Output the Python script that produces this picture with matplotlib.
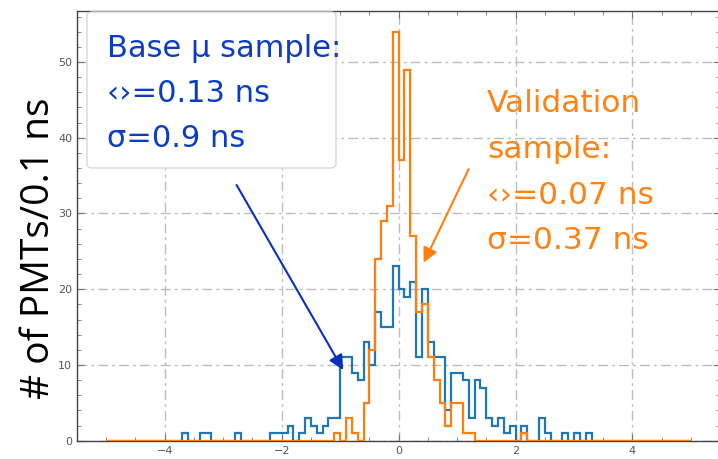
import numpy as np
import matplotlib
matplotlib.use("Agg")
import matplotlib.pyplot as plt
from matplotlib.patches import FancyBboxPatch
from matplotlib.ticker import MultipleLocator

# ---- data: bin centres (ns) and counts per 0.1 ns bin ----
bin_edges = np.round(np.arange(-5.0, 5.0001, 0.1), 2)

base_x = [-3.65, -3.35, -3.25, -2.75, -2.15, -2.05, -1.95, -1.85, -1.65, -1.55,
          -1.45, -1.35, -1.25, -1.15, -1.05, -0.95, -0.85, -0.75, -0.65, -0.55,
          -0.45, -0.35, -0.25, -0.15, -0.05, 0.05, 0.15, 0.25, 0.35, 0.45,
          0.55, 0.65, 0.75, 0.85, 0.95, 1.05, 1.15, 1.25, 1.35, 1.45,
          1.55, 1.65, 1.75, 1.85, 1.95, 2.15, 2.45, 2.55, 2.85, 3.05, 3.25]
base_n = [1, 1, 1, 1, 1, 1, 1, 2, 1, 3,
          2, 1, 2, 3, 3, 11, 11, 9, 8, 13,
          10, 17, 15, 15, 23, 20, 19, 21, 11, 20,
          13, 11, 11, 4, 9, 9, 8, 3, 8, 7,
          3, 2, 3, 1, 2, 2, 3, 1, 1, 1, 1]

valid_x = [-1.05, -0.85, -0.75, -0.55, -0.45, -0.35, -0.25, -0.15, -0.05,
           0.05, 0.15, 0.25, 0.35, 0.45, 0.55, 0.65, 0.75, 0.85, 0.95,
           1.05, 1.15, 1.25, 2.15]
valid_n = [1, 3, 1, 5, 12, 24, 29, 31, 54,
           37, 49, 27, 17, 18, 11, 8, 5, 2, 5,
           5, 1, 1, 1]

x_ticks = [-4, -2, 0, 2, 4]
y_ticks = [0, 10, 20, 30, 40, 50]

blue_lines = ["Base \u03bc sample:", "\u2039\u203a=0.13 ns", "\u03c3=0.9 ns"]
orange_lines = ["Validation", "sample:", "\u2039\u203a=0.07 ns", "\u03c3=0.37 ns"]

BLUE = "#1f77b4"
ORANGE = "#ff7f0e"
TXT_BLUE = "#0a3cc8"
TXT_ORANGE = "#ff8214"

W, H = 718, 459
fig = plt.figure(figsize=(W / 100, H / 100), dpi=100)
ax = fig.add_axes([77 / W, 1 - 440.7 / H, 643.2 / W, 430.2 / H])

ax.hist(base_x, bins=bin_edges, weights=base_n, histtype="step",
        color=BLUE, lw=1.6, zorder=3)
ax.hist(valid_x, bins=bin_edges, weights=valid_n, histtype="step",
        color=ORANGE, lw=1.6, zorder=4)

ax.set_xlim(-5.5, 5.5)
ax.set_ylim(0, 56.8)
ax.set_xticks(x_ticks)
ax.set_yticks(y_ticks)
ax.xaxis.set_minor_locator(MultipleLocator(0.5))
ax.yaxis.set_minor_locator(MultipleLocator(2))
ax.tick_params(which="both", direction="in", top=True, right=True,
               colors="#777777", labelcolor="#555555", labelsize=8)
ax.tick_params(which="major", length=5)
ax.tick_params(which="minor", length=3)
ax.grid(True, which="major", color="#bdbdbd", linestyle=(0, (7, 3, 2, 3)), lw=1)
for s in ax.spines.values():
    s.set_color("#444444")
    s.set_linewidth(1.0)

# white text box for the base sample
box = FancyBboxPatch((87 / W, 1 - 168 / H), (336 - 87) / W, (168 - 12) / H,
                     boxstyle="round,pad=0,rounding_size=0.008",
                     transform=fig.transFigure, facecolor="white",
                     edgecolor="#d8d8d8", lw=1.0, zorder=5)
fig.patches.append(box)

for line, yb in zip(blue_lines, [57, 102, 147]):
    fig.text(107 / W, 1 - yb / H, line, color=TXT_BLUE, fontsize=22,
             family="DejaVu Sans", ha="left", va="baseline", zorder=6)
for line, yb in zip(orange_lines, [112, 158, 204, 249]):
    fig.text(487 / W, 1 - yb / H, line, color=TXT_ORANGE, fontsize=22.5,
             family="DejaVu Sans", ha="left", va="baseline", zorder=6)

# arrows
ax.annotate("", xy=(-0.948, 9.34), xytext=(-2.771, 33.76),
            arrowprops=dict(arrowstyle="-|>", color="#0a2fc0", lw=1.5,
                            mutation_scale=22, shrinkA=0, shrinkB=0), zorder=6)
ax.annotate("", xy=(0.429, 23.5), xytext=(1.197, 35.85),
            arrowprops=dict(arrowstyle="-|>", color=ORANGE, lw=1.5,
                            mutation_scale=22, shrinkA=0, shrinkB=0), zorder=6)

fig.text(39 / W, 1 - 248 / H, "# of PMTs/0.1 ns", rotation=90, fontsize=28,
         family="Open Sans", ha="center", va="center", color="black")

fig.savefig("out.png", dpi=100)
